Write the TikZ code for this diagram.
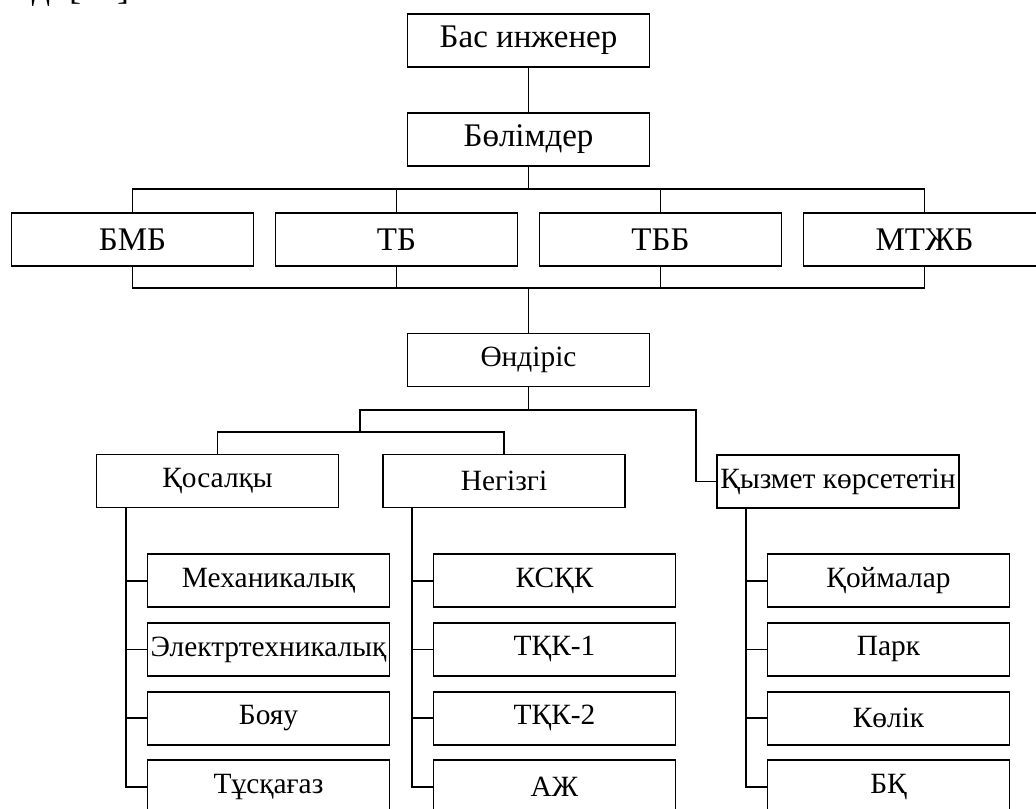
\documentclass[tikz,border=0pt]{standalone}
\usepackage{fontspec}
\setmainfont{Liberation Serif}
\begin{document}
\begin{tikzpicture}[x=0.5pt, y=-0.5pt, line width=0.9pt,
    box/.style={draw, minimum width=121pt, minimum height=26.5pt, inner sep=0.5pt,
        font=\fontsize{14.7}{16}\selectfont},
    bigbox/.style={box, font=\fontsize{16.5}{18}\selectfont}]
    \useasboundingbox (0,0) rectangle (1036,808);
    % line of text cut off above the chart
    \node[anchor=base east, inner sep=0pt, font=\fontsize{18}{20}\selectfont] (prev) at (139,0) {еді [16].};
    % head and departments
    \node[bigbox] (head) at (528.5,40.5) {Бас инженер};
    \node[bigbox] (dept) at (528.5,139.5) {Бөлімдер};
    \node[bigbox] (bmb) at (132.5,239.5) {БМБ};
    \node[bigbox] (tb) at (396.5,239.5) {ТБ};
    \node[bigbox] (tbb) at (660.5,239.5) {ТББ};
    \node[bigbox] (mtzhb) at (924.5,239.5) {МТЖБ};
    \coordinate (busT) at (528.5,189);
    \coordinate (busB) at (528.5,288);
    \draw (head) -- (dept);
    \draw (dept) -- (busT);
    \draw (bmb.north) |- (busT) -| (mtzhb.north);
    \draw (tb.north) -- (tb.north |- busT);
    \draw (tbb.north) -- (tbb.north |- busT);
    \draw (bmb.south) |- (busB) -| (mtzhb.south);
    \draw (tb.south) -- (tb.south |- busB);
    \draw (tbb.south) -- (tbb.south |- busB);
    % production
    \node[box] (prod) at (528.5,360) {Өндіріс};
    \node[box] (aux) at (217.5,481) {Қосалқы};
    \node[box] (main) at (504,481) {Негізгі};
    \node[box] (serv) at (838,481.5) {Қызмет көрсететін};
    \coordinate (split) at (528.5,410);
    \coordinate (fork) at (360,432);
    \draw (busB) -- (prod);
    \draw (prod) -- (split);
    \draw (split) -| (fork);
    \draw (aux.north) |- (fork) -| (main.north);
    \draw (serv.west) -- ++(-20,0) |- (split);
    % units
    \foreach \t [count=\i] in {Механикалық, Электртехникалық, Бояу, Тұсқағаз}
        \node[box] (a\i) at (268.5,{512+68.7*\i}) {\t};
    \foreach \t [count=\i] in {КСҚК, ТҚК-1, ТҚК-2, АЖ}
        \node[box] (m\i) at (554.5,{512+68.7*\i}) {\t};
    \foreach \t [count=\i] in {Қоймалар, Парк, Көлік, БҚ}
        \node[box] (s\i) at (888.5,{512+68.7*\i}) {\t};
    \foreach \p/\g in {aux/a, main/m, serv/s} {
        \coordinate (\g T) at ([xshift=15pt]\p.south west);
        \draw (\g T) |- (\g4.west);
        \foreach \i in {1,2,3}
            \draw (\g\i.west) -- (\g\i.west -| \g T);
    }
\end{tikzpicture}
\end{document}
